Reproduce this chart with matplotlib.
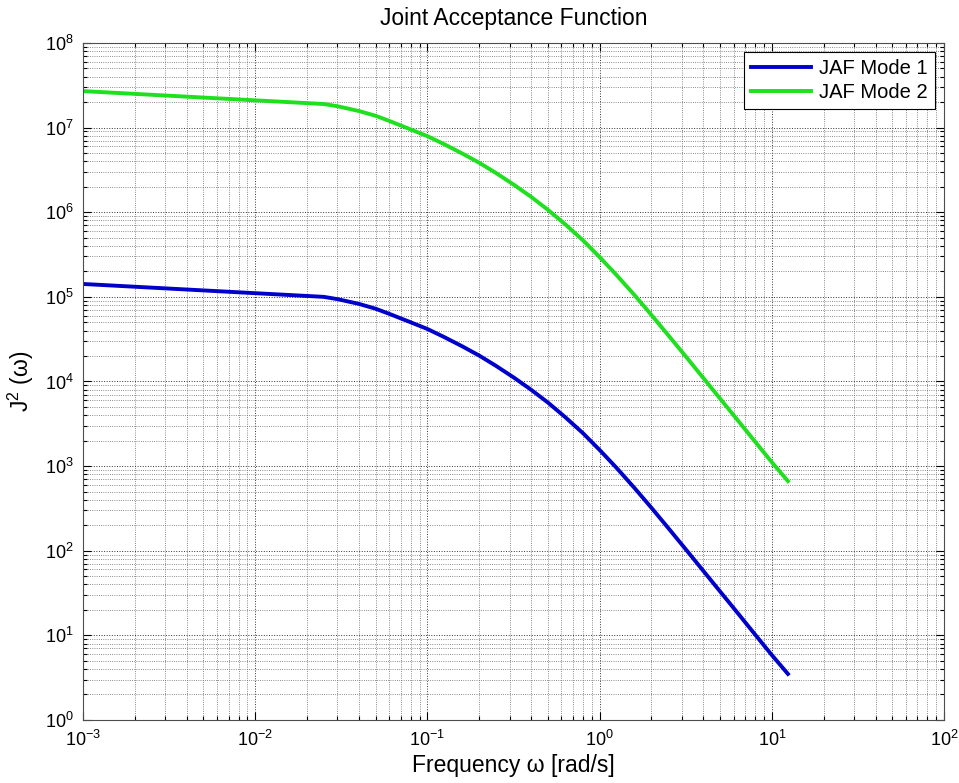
import matplotlib
matplotlib.use("Agg")
import matplotlib.pyplot as plt
from matplotlib.ticker import LogLocator, NullFormatter, LogFormatterSciNotation

plt.rcParams['font.family'] = ['Liberation Sans', 'DejaVu Sans']
plt.rcParams['mathtext.fontset'] = 'custom'
plt.rcParams['mathtext.rm'] = 'Liberation Sans'
plt.rcParams['mathtext.it'] = 'Liberation Sans:italic'
plt.rcParams['mathtext.bf'] = 'Liberation Sans:bold'

freq = [0.001, 0.025, 0.03, 0.04, 0.05, 0.06, 0.08, 0.1, 0.125, 0.16, 0.2, 0.25,
        0.32, 0.4, 0.5, 0.63, 0.8, 1.0, 1.25, 1.6, 2.0, 2.5, 3.2, 4.0, 5.0, 6.3,
        8.0, 10.0, 12.4]
jaf_mode1 = [1.42e5, 1.0e5, 9.4e4, 8.26e4, 7.24e4, 6.3e4, 5.0e4, 4.17e4, 3.35e4,
             2.59e4, 2.02e4, 1.53e4, 1.10e4, 7.98e3, 5.65e3, 3.8e3, 2.45e3, 1.55e3,
             959, 546, 321, 186, 101, 57.8, 33.1, 18.6, 10.2, 5.85, 3.5]
jaf_mode2 = [2.7e7, 1.9e7, 1.79e7, 1.57e7, 1.38e7, 1.20e7, 9.5e6, 7.92e6, 6.37e6,
             4.92e6, 3.84e6, 2.91e6, 2.09e6, 1.52e6, 1.07e6, 7.22e5, 4.66e5, 2.95e5,
             1.82e5, 1.04e5, 6.1e4, 3.53e4, 1.92e4, 1.10e4, 6.29e3, 3.53e3, 1.94e3,
             1.11e3, 6.65e2]
labels = ['JAF Mode 1', 'JAF Mode 2']
x_ticks = [1e-3, 1e-2, 1e-1, 1e0, 1e1, 1e2]
y_ticks = [1e0, 1e1, 1e2, 1e3, 1e4, 1e5, 1e6, 1e7, 1e8]

fig = plt.figure(figsize=(9.59, 7.83), dpi=100)
ax = fig.add_axes([0.0866, 0.0805, 0.8978, 0.8646])

ax.loglog(freq, jaf_mode1, color='#0000CC', lw=2.8, label=labels[0])
ax.loglog(freq, jaf_mode2, color='#1EE01E', lw=2.8, label=labels[1])

ax.set_xticks(x_ticks)
ax.set_yticks(y_ticks)
ax.xaxis.set_major_formatter(LogFormatterSciNotation())
ax.yaxis.set_major_formatter(LogFormatterSciNotation())
ax.set_xlim(1e-3, 1e2)
ax.set_ylim(1e0, 1e8)
ax.xaxis.set_minor_locator(LogLocator(base=10, subs=range(2, 10), numticks=50))
ax.yaxis.set_minor_locator(LogLocator(base=10, subs=range(2, 10), numticks=50))
ax.xaxis.set_minor_formatter(NullFormatter())
ax.yaxis.set_minor_formatter(NullFormatter())

ax.grid(True, which='major', linestyle=':', color='0.2', lw=0.7)
ax.grid(True, which='minor', linestyle=':', color='0.4', lw=0.6)
ax.tick_params(which='both', direction='in', top=True, right=True, width=0.8)
ax.tick_params(which='major', length=6, labelsize=13, pad=7)
ax.tick_params(which='minor', length=3)
for s in ax.spines.values():
    s.set_linewidth(0.8)
    s.set_color('0.3')

ax.set_title('Joint Acceptance Function', fontsize=16.5, pad=13)
ax.set_xlabel('Frequency ω [rad/s]', fontsize=16.5, labelpad=3)
ax.set_ylabel('J$^2$ (ω)', fontsize=16.5, labelpad=6)

leg = ax.legend(loc='upper right', fontsize=14.5, fancybox=False, framealpha=1,
                edgecolor='black', borderaxespad=0.45, handlelength=3.0,
                borderpad=0.35, labelspacing=0.25, handletextpad=0.4)
leg.get_frame().set_linewidth(0.8)

fig.savefig('out.png', dpi=100)
